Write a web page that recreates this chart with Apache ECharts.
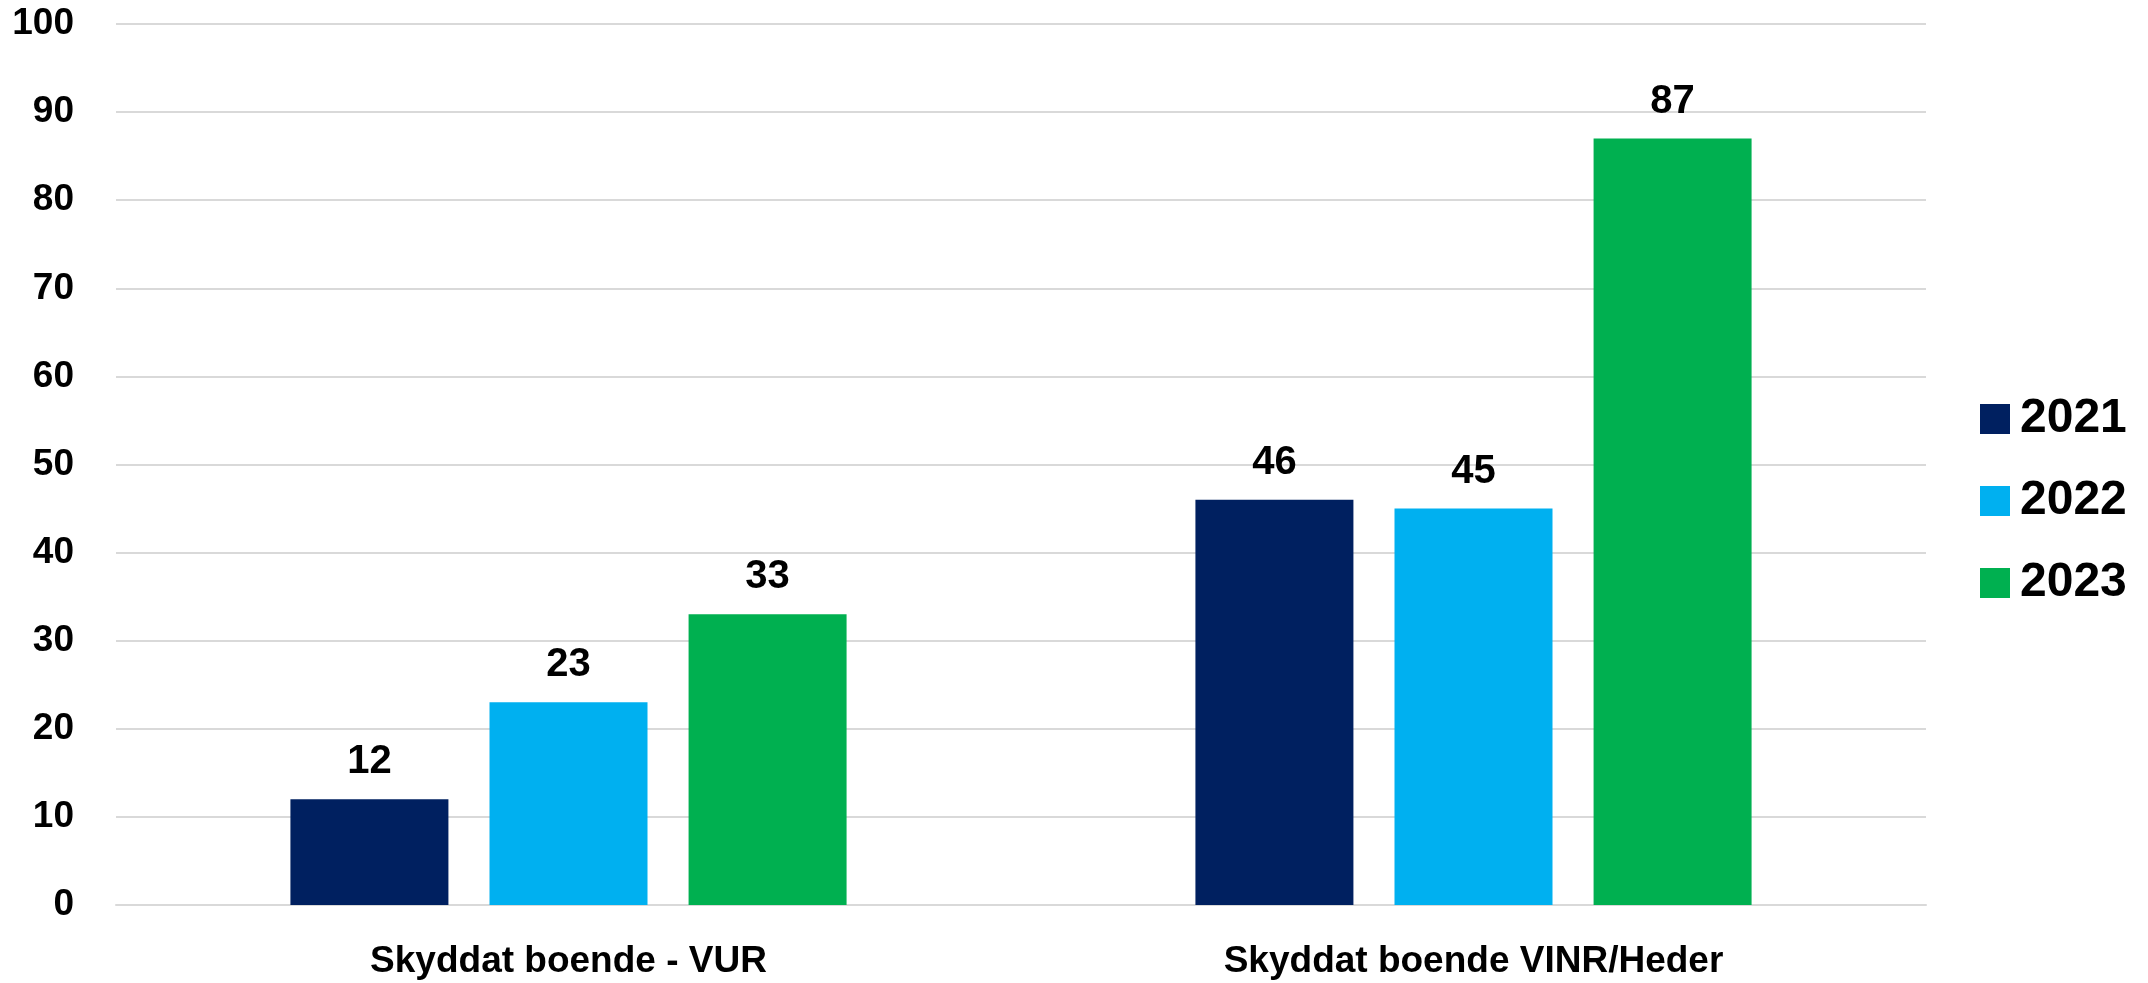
<!DOCTYPE html>
<html>
<head>
<meta charset="utf-8">
<script src="https://cdn.jsdelivr.net/npm/echarts@6/dist/echarts.min.js"></script>
<style>
    html, body {margin: 0; padding: 0; background: #fff;}
    #chart {width: 2148px; height: 983px;}
</style>
</head>
<body>
<div id="chart"></div>
<script>
var categories = ['Skyddat boende - VUR', 'Skyddat boende VINR/Heder'];
var years = ['2021', '2022', '2023'];
var values2021 = [12, 46];
var values2022 = [23, 45];
var values2023 = [33, 87];
var yearColors = ['#002060', '#00B0F0', '#00B050'];

var fontName = '"Liberation Sans", Arial, sans-serif';

function makeSeries(name, data, color) {
    return {
        name: name,
        type: 'bar',
        data: data,
        barWidth: 158,
        barGap: '26%',
        itemStyle: {color: color},
        label: {
            show: true,
            position: 'top',
            distance: 17,
            color: '#000',
            fontFamily: fontName,
            fontWeight: 'bold',
            fontSize: 40
        }
    };
}

function initChart() {
    var option = {
        animation: false,
        backgroundColor: '#fff',
        textStyle: {fontFamily: fontName},
        grid: {
            left: 116,
            right: 222,
            top: 24,
            bottom: 78
        },
        legend: {
            orient: 'vertical',
            left: 1975,
            top: 390,
            itemWidth: 30,
            itemHeight: 30,
            itemGap: 34,
            icon: 'rect',
            data: years,
            textStyle: {
                color: '#000',
                fontFamily: fontName,
                fontWeight: 'bold',
                fontSize: 48,
                padding: [0, 0, 0, 5]
            }
        },
        xAxis: {
            type: 'category',
            data: categories,
            axisTick: {show: false},
            axisLine: {lineStyle: {color: '#d9d9d9', width: 2}},
            axisLabel: {
                margin: 38,
                color: '#000',
                fontFamily: fontName,
                fontWeight: 'bold',
                fontSize: 37
            }
        },
        yAxis: {
            type: 'value',
            min: 0,
            max: 100,
            interval: 10,
            axisLine: {show: false},
            axisTick: {show: false},
            splitLine: {lineStyle: {color: '#d9d9d9', width: 2}},
            axisLabel: {
                margin: 42,
                color: '#000',
                fontFamily: fontName,
                fontWeight: 'bold',
                fontSize: 37
            }
        },
        series: [
            makeSeries(years[0], values2021, yearColors[0]),
            makeSeries(years[1], values2022, yearColors[1]),
            makeSeries(years[2], values2023, yearColors[2])
        ]
    };
    var chart = echarts.init(document.getElementById('chart'));
    chart.setOption(option);
}

initChart();
</script>
</body>
</html>
